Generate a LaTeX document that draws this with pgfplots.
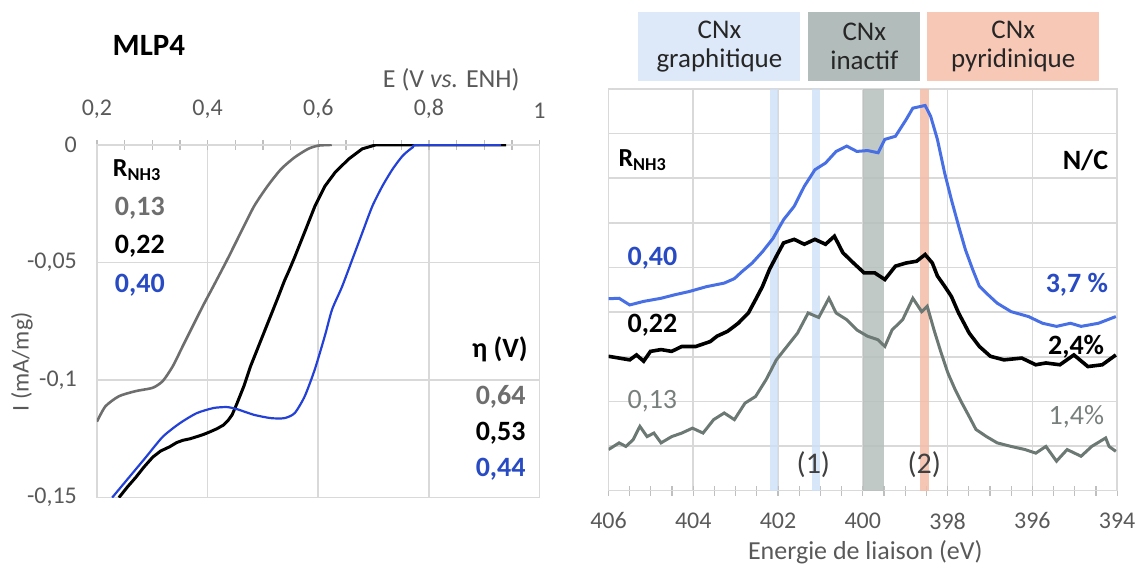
\documentclass[border=0pt]{standalone}
\usepackage{fontspec}
\setmainfont{Carlito}
\usepackage{pgfplots}
\pgfplotsset{compat=1.18}
\definecolor{lgray}{RGB}{110,110,110}
\definecolor{lblue}{RGB}{35,65,215}
\definecolor{rblue}{RGB}{72,112,228}
\definecolor{rgray}{RGB}{108,120,116}
\definecolor{tblue}{RGB}{40,75,195}
\definecolor{tgray}{RGB}{120,128,126}
\definecolor{gridc}{RGB}{217,217,217}
\definecolor{tickc}{RGB}{191,191,191}
\definecolor{labc}{RGB}{89,89,89}
\definecolor{bandblue}{RGB}{205,224,246}
\definecolor{bandgray}{RGB}{182,192,189}
\definecolor{bandsal}{RGB}{244,188,168}
\definecolor{boxblue}{RGB}{221,233,248}
\definecolor{boxgray}{RGB}{178,188,186}
\definecolor{boxsal}{RGB}{248,200,182}
\newcommand\fs[1]{\fontsize{#1}{#1}\selectfont}
\begin{document}
\begin{tikzpicture}
\begin{scope}[x=0.5pt,y=-0.5pt]
\path[use as bounding box] (0,0) rectangle (1142,570);
\end{scope}
% ---------------- left panel
\begin{axis}[
  at={(48.5pt,-249pt)}, anchor=south west, scale only axis,
  width=221.5pt, height=176.5pt,
  xmin=0.2, xmax=1, ymin=-0.15, ymax=0,
  xtick={0.2,0.4,0.6,0.8,1}, xticklabels={{0,2},{0,4},{0,6},{0,8},1},
  ytick={-0.15,-0.1,-0.05,0}, yticklabels={{-0,15},{-0,1},{-0,05},0},
  xtick pos=right, xticklabel pos=right,
  minor x tick num=3,
  tick align=center, major tick length=5pt, minor tick length=5pt,
  ytick style={draw=none},
  xtick style={tickc, line width=0.6pt},
  minor x tick style={tickc, line width=0.6pt},
  grid=major, grid style={gridc, line width=0.8pt},
  axis line style={gridc, line width=0.8pt},
  tick label style={font=\fs{12}, text=labc},
  xticklabel style={yshift=7pt},
  yticklabel style={xshift=-4pt},
  /pgf/number format/assume math mode=true,
]
\addplot[lgray, line width=1.3pt, smooth, tension=0.4] coordinates {
(0.2000,-0.1177) (0.2153,-0.1112) (0.2397,-0.1069) (0.2702,-0.1047) (0.3008,-0.1033)
(0.3191,-0.1004) (0.3374,-0.0940) (0.3557,-0.0853) (0.3740,-0.0767)
(0.3915,-0.0685) (0.4107,-0.0600) (0.4351,-0.0490) (0.4595,-0.0375) (0.4840,-0.0261)
(0.5084,-0.0175) (0.5328,-0.0103) (0.5573,-0.0053) (0.5817,-0.0017) (0.6000,-0.0003)
(0.6244,0)};
\addplot[black, line width=1.5pt] coordinates {
(0.2397,-0.1500) (0.2550,-0.1455) (0.2702,-0.1414) (0.2850,-0.1370) (0.3008,-0.1328)
(0.3150,-0.1302) (0.3313,-0.1284) (0.3440,-0.1266) (0.3557,-0.1256) (0.3680,-0.1250)
(0.3802,-0.1241) (0.3920,-0.1232) (0.4046,-0.1220) (0.4170,-0.1207) (0.4290,-0.1191)
(0.4370,-0.1172) (0.4443,-0.1148) (0.4534,-0.1098) (0.4656,-0.1026) (0.4779,-0.0940)
(0.4901,-0.0868) (0.5023,-0.0796) (0.5145,-0.0724) (0.5267,-0.0652) (0.5389,-0.0578)
(0.5480,-0.0530) (0.5573,-0.0478) (0.5756,-0.0370) (0.5939,-0.0261) (0.6122,-0.0175)
(0.6305,-0.0117) (0.6550,-0.0060) (0.6794,-0.0017) (0.7038,0) (0.9395,0)};
\addplot[lblue, line width=1.1pt, smooth, tension=0.4] coordinates {
(0.2275,-0.1500) (0.2580,-0.1414) (0.2885,-0.1328) (0.3191,-0.1241) (0.3496,-0.1184)
(0.3802,-0.1141) (0.4107,-0.1119) (0.4351,-0.1115) (0.4534,-0.1124) (0.4840,-0.1148)
(0.5145,-0.1162) (0.5389,-0.1162) (0.5573,-0.1141) (0.5756,-0.1069) (0.5939,-0.0954)
(0.6122,-0.0810) (0.6250,-0.0700) (0.6427,-0.0605) (0.6611,-0.0490) (0.6794,-0.0375)
(0.6977,-0.0261) (0.7160,-0.0175) (0.7344,-0.0103) (0.7527,-0.0046) (0.7710,-0.0010)
(0.7833,0) (0.9300,0)};
\end{axis}
% ---------------- right panel
\begin{axis}[
  at={(304.5pt,-245.5pt)}, anchor=south west, scale only axis,
  width=254.5pt, height=201pt,
  x dir=reverse, xmin=394, xmax=406, ymin=0, ymax=9,
  xtick={394,396,...,406}, ytick={0,1,...,9}, yticklabels={},
  xtick pos=left, minor x tick num=3,
  tick align=center, major tick length=5pt, minor tick length=5pt,
  ytick style={draw=none},
  xtick style={tickc, line width=0.6pt},
  minor x tick style={tickc, line width=0.6pt},
  grid=major, grid style={gridc, line width=0.8pt},
  axis line style={gridc, line width=0.8pt},
  tick label style={font=\fs{12}, text=labc},
  xticklabel style={yshift=-5pt},
  /pgf/number format/assume math mode=true,
  /pgf/number format/1000 sep={},
]
\addplot[fill=bandblue, draw=none, opacity=0.8] coordinates {(402.2,0) (402.2,9) (402.0,9) (402.0,0)} -- cycle;
\addplot[fill=bandblue, draw=none, opacity=0.8] coordinates {(401.2,0) (401.2,9) (401.0,9) (401.0,0)} -- cycle;
\addplot[fill=bandgray, draw=none, opacity=0.85] coordinates {(400.0,0) (400.0,9) (399.5,9) (399.5,0)} -- cycle;
\addplot[fill=bandsal, draw=none, opacity=0.85] coordinates {(398.65,0) (398.65,9) (398.45,9) (398.45,0)} -- cycle;
\addplot[rgray, line width=1.5pt] coordinates {
(406.00,0.92) (405.75,1.07) (405.59,0.99) (405.42,1.14) (405.26,1.44) (405.09,1.21)
(404.93,1.29) (404.76,1.07) (404.51,1.21) (404.27,1.29) (404.02,1.40) (403.77,1.29)
(403.52,1.59) (403.27,1.74) (403.03,1.59) (402.78,1.96) (402.53,2.11) (402.28,2.49)
(402.04,2.93) (401.79,3.23) (401.54,3.53) (401.29,3.98) (401.04,3.88) (400.80,4.31)
(400.63,3.98) (400.38,3.83) (400.14,3.60) (399.89,3.46) (399.64,3.38) (399.48,3.23)
(399.31,3.60) (399.06,3.83) (398.82,4.31) (398.61,4.01) (398.48,4.13) (398.32,3.60)
(398.15,3.08) (397.99,2.63) (397.82,2.26) (397.66,1.96) (397.49,1.66) (397.33,1.37)
(397.08,1.21) (396.83,1.07) (396.50,0.99) (396.17,0.92) (395.92,0.84) (395.68,0.99)
(395.43,0.66) (395.18,0.92) (394.85,0.77) (394.60,0.99) (394.27,1.18) (394.19,0.99)
(394.03,0.88)};
\addplot[black, line width=1.8pt] coordinates {
(406.00,3.01) (405.75,2.97) (405.50,2.93) (405.34,3.04) (405.17,2.90) (405.01,3.12)
(404.76,3.16) (404.51,3.12) (404.27,3.23) (403.94,3.23) (403.60,3.34) (403.44,3.46)
(403.19,3.57) (402.94,3.75) (402.70,3.98) (402.53,4.28) (402.37,4.57) (402.20,4.96)
(402.04,5.25) (401.87,5.55) (401.62,5.63) (401.38,5.52) (401.13,5.63) (400.88,5.52)
(400.67,5.70) (400.47,5.33) (400.22,5.10) (399.97,4.88) (399.72,4.88) (399.48,4.73)
(399.23,5.03) (398.98,5.10) (398.73,5.14) (398.53,5.29) (398.36,5.10) (398.24,4.81)
(398.07,4.58) (397.91,4.35) (397.74,3.98) (397.49,3.53) (397.25,3.23) (396.99,3.01)
(396.67,2.93) (396.25,2.97) (395.92,2.82) (395.68,2.86) (395.35,2.82) (395.02,3.04)
(394.69,2.78) (394.35,2.82) (394.03,3.04)};
\addplot[rblue, line width=1.5pt] coordinates {
(406.00,4.30) (405.75,4.31) (405.50,4.16) (405.17,4.24) (404.76,4.31) (404.43,4.39)
(404.10,4.46) (403.69,4.57) (403.27,4.65) (403.03,4.75) (402.86,4.90) (402.61,5.10)
(402.37,5.35) (402.12,5.65) (401.87,6.07) (401.62,6.37) (401.38,6.82) (401.13,7.19)
(400.88,7.34) (400.63,7.60) (400.38,7.72) (400.14,7.60) (399.89,7.62) (399.64,7.57)
(399.48,7.87) (399.23,7.94) (398.98,8.31) (398.82,8.57) (398.53,8.63) (398.40,8.39)
(398.24,7.87) (398.07,7.12) (397.91,6.52) (397.74,5.93) (397.58,5.40) (397.41,4.96)
(397.25,4.58) (397.08,4.42) (396.83,4.20) (396.50,4.01) (396.09,3.90) (395.76,3.75)
(395.43,3.68) (395.10,3.75) (394.85,3.68) (394.44,3.75) (394.03,3.90)};
\end{axis}
% ---------------- text
\begin{scope}[x=0.5pt,y=-0.5pt]
\node[font=\fs{15.5}\bfseries] at (149,45) {MLP4};
\node[font=\fs{13}, text=labc, anchor=east] at (527,80) {E (V \textit{vs.} ENH)};
\node[font=\fs{12}, text=labc, rotate=90] at (22,362) {I (mA/mg)};
\node[font=\fs{13}\bfseries, anchor=west] at (106,170) {R\textsubscript{NH3}};
\node[font=\fs{14}\bfseries, text=lgray, anchor=west] at (108,208) {0,13};
\node[font=\fs{14}\bfseries, text=black, anchor=west] at (108,246) {0,22};
\node[font=\fs{14}\bfseries, text=tblue, anchor=west] at (108,285) {0,40};
\node[font=\fs{14}\bfseries, anchor=east] at (535,350) {η (V)};
\node[font=\fs{14}\bfseries, text=lgray, anchor=east] at (533,397) {0,64};
\node[font=\fs{14}\bfseries, text=black, anchor=east] at (533,434) {0,53};
\node[font=\fs{14}\bfseries, text=tblue, anchor=east] at (533,470) {0,44};
% top boxes
\fill[boxblue] (639,12) rectangle (801,81);
\fill[boxgray] (809,12) rectangle (921,81);
\fill[boxsal] (928,12) rectangle (1100,81);
\node[font=\fs{13.5}, align=center, text=black!85] at (720,46.5) {CNx\\[1pt]graphitique};
\node[font=\fs{13.5}, align=center, text=black!85] at (865,46.5) {CNx\\[1pt]inactif};
\node[font=\fs{13.5}, align=center, text=black!85] at (1014,46.5) {CNx\\[1pt]pyridinique};
\node[font=\fs{13}\bfseries, anchor=west] at (612,160) {R\textsubscript{NH3}};
\node[font=\fs{14}\bfseries, anchor=east] at (1116,160) {N/C};
\node[font=\fs{14}\bfseries, text=tblue, anchor=west] at (621,258) {0,40};
\node[font=\fs{14}\bfseries, text=tblue, anchor=east] at (1116,285) {3,7 \%};
\node[font=\fs{14}\bfseries, text=black, anchor=west] at (621,325) {0,22};
\node[font=\fs{14}\bfseries, text=black, anchor=east] at (1112,347) {2,4\%};
\node[font=\fs{14}, text=tgray, anchor=west] at (621,402) {0,13};
\node[font=\fs{14}, text=tgray, anchor=east] at (1112,417) {1,4\%};
\node[font=\fs{15}, text=black!75] at (814,465) {(1)};
\node[font=\fs{15}, text=black!75] at (925,465) {(2)};
\node[font=\fs{13}, text=labc] at (866,553) {Energie de liaison (eV)};
\end{scope}
\end{tikzpicture}
\end{document}
